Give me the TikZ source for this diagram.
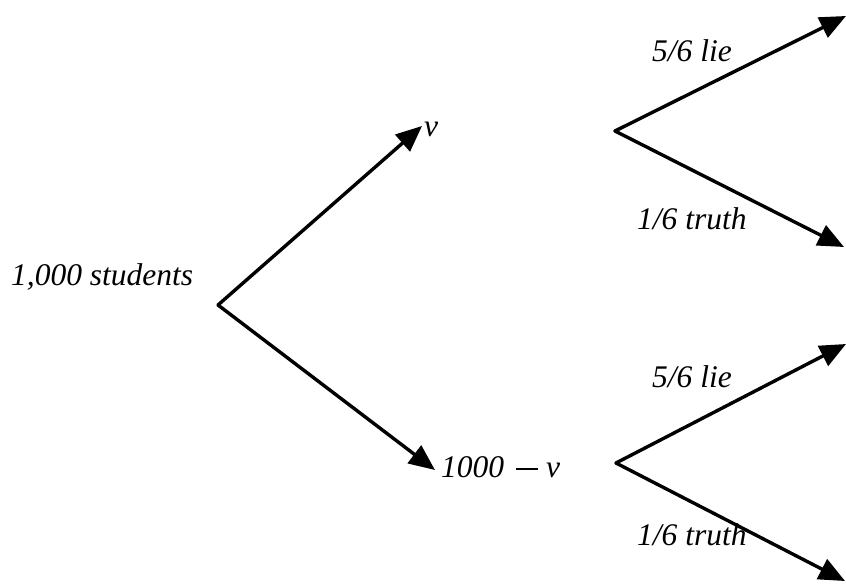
\documentclass[tikz,border=0pt]{standalone}
\usepackage{fontspec}
\setmainfont{Liberation Serif}
\usetikzlibrary{arrows.meta}
\begin{document}
\begin{tikzpicture}[x=1pt,y=-1pt,
  edge/.style={line width=3.4pt,line cap=round,line join=round},
  arr/.style={edge,-{Triangle[length=26pt,width=22pt]}},
  lbl/.style={inner sep=0pt,anchor=base west,font=\fontsize{31.5}{38}\selectfont\itshape}]
\useasboundingbox (0,0) rectangle (846,586);
% vertices and tips
\coordinate (root) at (218,305);
\coordinate (vt) at (422,126);
\coordinate (nt) at (435,470);
\coordinate (f1) at (615,131);
\coordinate (f1a) at (846,16);
\coordinate (f1b) at (844,247);
\coordinate (f2) at (616,463);
\coordinate (f2a) at (846,344);
\coordinate (f2b) at (845,581);
% labels
\node[lbl] (start) at (11,285) {1,000 students};
\node[lbl] (v) at (424,136) {v};
\node[lbl] (nv) at (441,477) {1000\hspace{12pt}\rule[7pt]{22pt}{2.2pt}\hspace{8pt}v};
\node[lbl] (l1) at (652,62) {5/6 lie};
\node[lbl] (t1) at (637,229) {1/6 truth};
\node[lbl] (l2) at (652,387) {5/6 lie};
\node[lbl] (t2) at (637,545) {1/6 truth};
% connectors
\draw[arr] (root) -- (vt);
\draw[arr] (root) -- (nt);
\draw[arr] (f1) -- (f1a);
\draw[arr] (f1) -- (f1b);
\draw[arr] (f2) -- (f2a);
\draw[arr] (f2) -- (f2b);
\end{tikzpicture}
\end{document}
